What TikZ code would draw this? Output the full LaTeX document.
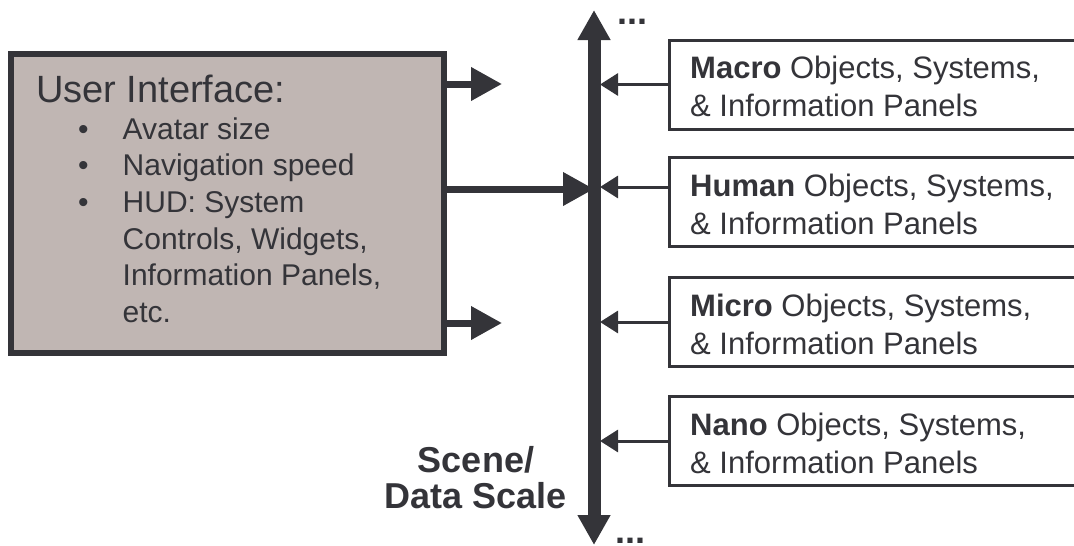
\documentclass[tikz,border=0pt]{standalone}
\usepackage{fontspec}
\setmainfont{Liberation Sans}
\usepackage{tikz}
\usetikzlibrary{arrows.meta}

\definecolor{ink}{RGB}{52,52,57}
\definecolor{uifill}{RGB}{192,182,179}

\newcommand{\scalepanel}[1]{\begin{tabular}[t]{@{}l@{}}\textbf{#1} Objects, Systems,\\ \& Information Panels\end{tabular}}

\begin{document}
\begin{tikzpicture}[x=1pt, y=-1pt, ink,
    uibox/.style={draw=ink, fill=uifill, line width=6pt, minimum width=433pt, minimum height=299pt, inner sep=0pt},
    panelbox/.style={draw=ink, fill=white, line width=3pt, minimum width=480pt, minimum height=89pt, inner sep=0pt},
    txt/.style={inner sep=0pt, anchor=base west, text=ink},
    dots/.style={txt, text height=6pt, text depth=0pt, font=\fontsize{36}{36}\selectfont\bfseries},
    axisline/.style={line width=13pt, arrows={Triangle[length=30pt,width=31pt]-Triangle[length=30pt,width=31pt]}},
    uiarrow/.style={line width=7pt, arrows={-Triangle[length=31pt,width=32pt]}},
    feed/.style={line width=3pt, arrows={-Triangle[length=18pt,width=22pt]}}]
    \useasboundingbox (0,0) rectangle (1074,546);
    \clip (0,0) rectangle (1074,546);
    % user interface box
    \node[uibox] (ui) at (227.5,203.5) {};
    \node[txt, font=\fontsize{38}{38}\selectfont] (uititle) at (36,102) {User Interface:};
    \node[txt, font=\fontsize{30}{36.7}\selectfont] (uilist) at (78,139)
        {\begin{tabular}[t]{@{}c@{\hspace{34pt}}l@{}}
            • & Avatar size\\
            • & Navigation speed\\
            • & HUD: System\\
              & Controls, Widgets,\\
              & Information Panels,\\
              & etc.
        \end{tabular}};
    % scale axis
    \coordinate (axtop) at (594,10);
    \coordinate (axbot) at (594,545);
    \coordinate (ax) at (594,0);
    \coordinate (axr) at (600,0);
    \draw[axisline] (axbot) -- (axtop);
    \node[dots] (dotstop) at (617,24) {...};
    \node[dots] (dotsbot) at (615,543) {...};
    \node[inner sep=0pt, anchor=base, font=\fontsize{36}{36}\selectfont\bfseries] (scalelbl) at (476,472)
        {\begin{tabular}[t]{@{}c@{}}Scene/\\ Data Scale\end{tabular}};
    % arrows out of the interface box
    \draw[uiarrow] ([yshift=119.5pt]ui.east) -- ++(55,0);
    \draw[uiarrow] ([yshift=14.5pt]ui.east) -- ([yshift=14.5pt]ui.east -| ax);
    \draw[uiarrow] ([yshift=-119.5pt]ui.east) -- ++(55,0);
    % panels
    \foreach \name/\yy [count=\i] in {Macro/84.5, Human/202, Micro/322, Nano/441} {
        \node[panelbox] (panel\i) at (909.5,\yy) {};
        \node[txt, font=\fontsize{31}{38}\selectfont] (paneltxt\i) at (690,\yy-6) {\scalepanel{\name}};
    }
    \draw[feed] (panel1.west) -- (panel1.west -| axr);
    \draw[feed] ([yshift=15pt]panel2.west) -- ([yshift=15pt]panel2.west -| axr);
    \draw[feed] (panel3.west) -- (panel3.west -| axr);
    \draw[feed] (panel4.west) -- (panel4.west -| axr);
\end{tikzpicture}
\end{document}
